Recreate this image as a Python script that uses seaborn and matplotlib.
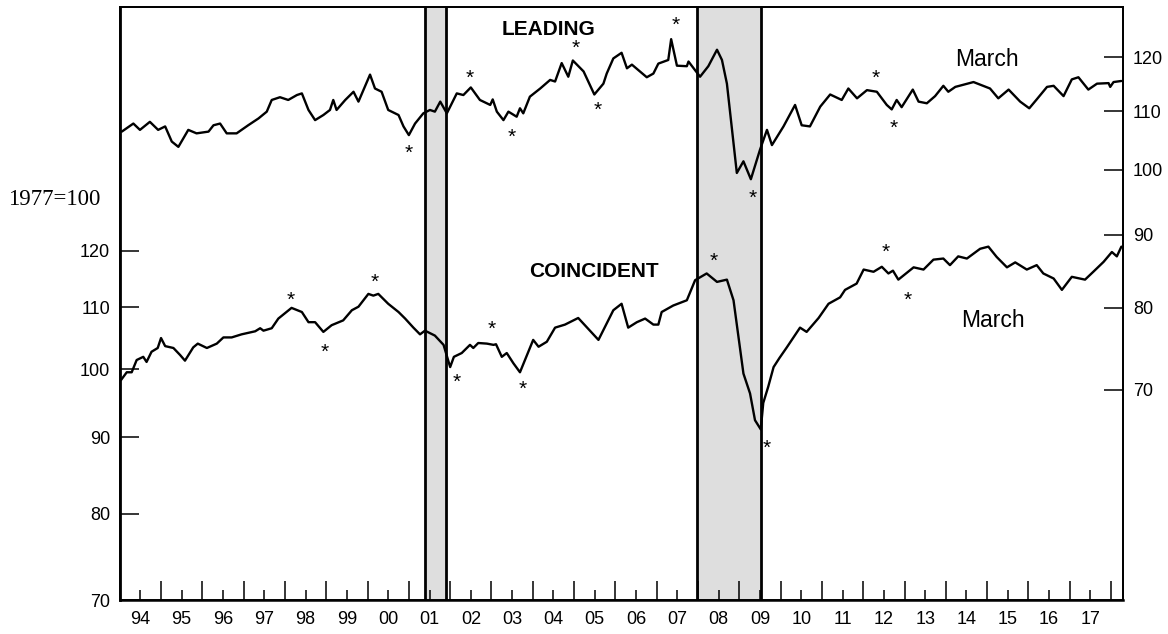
import matplotlib
matplotlib.use("Agg")
import matplotlib.pyplot as plt
from matplotlib.ticker import NullLocator
import seaborn as sns

# Leading index (right axis)
lead_year = [1994.05, 1994.33, 1994.49, 1994.73, 1994.93, 1995.10, 1995.26, 1995.42, 1995.66, 1995.86,
             1996.15, 1996.27, 1996.43, 1996.59, 1996.83, 1997.11, 1997.36, 1997.56, 1997.68, 1997.88,
             1998.08, 1998.29, 1998.41, 1998.57, 1998.73, 1998.93, 1999.09, 1999.17, 1999.25, 1999.46,
             1999.66, 1999.78, 1999.90, 2000.06, 2000.18, 2000.34, 2000.50, 2000.75, 2000.87, 2001.00,
             2001.15, 2001.35, 2001.51, 2001.63, 2001.76, 2001.92, 2002.16, 2002.32, 2002.50, 2002.72,
             2002.97, 2003.03, 2003.13, 2003.29, 2003.41, 2003.61, 2003.69, 2003.77, 2003.93, 2004.18,
             2004.42, 2004.54, 2004.70, 2004.86, 2004.97, 2005.23, 2005.49, 2005.71, 2005.79, 2005.95,
             2006.15, 2006.28, 2006.40, 2006.76, 2006.92, 2007.04, 2007.28, 2007.35, 2007.49, 2007.73,
             2007.77, 2008.05, 2008.25, 2008.46, 2008.58, 2008.70, 2008.94, 2009.10, 2009.28, 2009.50,
             2009.67, 2009.79, 2010.07, 2010.35, 2010.51, 2010.71, 2010.96, 2011.20, 2011.48, 2011.64,
             2011.85, 2012.09, 2012.33, 2012.57, 2012.69, 2012.81, 2012.93, 2013.20, 2013.34, 2013.54,
             2013.74, 2013.94, 2014.06, 2014.23, 2014.67, 2015.07, 2015.27, 2015.52, 2015.80, 2016.02,
             2016.20, 2016.45, 2016.61, 2016.85, 2017.05, 2017.21, 2017.45, 2017.66, 2017.94, 2017.98,
             2018.06, 2018.25]
lead_value = [106.4, 107.8, 106.7, 108.1, 106.7, 107.3, 104.7, 103.8, 106.7, 106.1,
              106.4, 107.5, 107.8, 106.1, 106.1, 107.5, 108.7, 109.9, 112.0, 112.5,
              112.0, 112.9, 113.2, 110.2, 108.4, 109.3, 110.2, 112.0, 110.2, 112.0,
              113.5, 111.7, 113.8, 116.7, 114.1, 113.5, 110.2, 109.3, 107.3, 105.8,
              107.8, 109.6, 110.2, 109.9, 111.7, 109.6, 113.2, 112.9, 114.3, 112.0,
              111.1, 112.1, 109.9, 108.4, 109.9, 109.0, 110.5, 109.6, 112.6, 114.1,
              115.7, 115.4, 118.9, 116.3, 119.4, 117.3, 113.0, 115.0, 116.9, 119.8,
              120.9, 117.9, 118.6, 116.2, 116.9, 118.8, 119.5, 123.6, 118.4, 118.3,
              119.2, 116.3, 118.3, 121.5, 119.5, 115.0, 99.5, 101.4, 98.5, 103.3,
              106.7, 104.1, 107.3, 111.1, 107.5, 107.3, 110.8, 113.0, 112.0, 114.1,
              112.3, 113.8, 113.5, 111.1, 110.3, 112.0, 110.7, 113.9, 111.7, 111.4,
              112.7, 114.6, 113.5, 114.4, 115.3, 114.1, 112.3, 113.9, 111.7, 110.5,
              112.1, 114.4, 114.6, 112.7, 115.8, 116.2, 113.9, 115.0, 115.1, 114.4,
              115.3, 115.5]

# Coincident index (left axis)
coin_year = [1994.03, 1994.17, 1994.29, 1994.41, 1994.57, 1994.65, 1994.77, 1994.92, 1995.00, 1995.10,
             1995.30, 1995.46, 1995.58, 1995.78, 1995.89, 1996.11, 1996.35, 1996.51, 1996.71, 1996.95,
             1997.28, 1997.40, 1997.48, 1997.68, 1997.84, 1998.16, 1998.41, 1998.57, 1998.73, 1998.93,
             1999.13, 1999.41, 1999.62, 1999.78, 2000.02, 2000.14, 2000.26, 2000.50, 2000.75, 2000.91,
             2001.11, 2001.27, 2001.39, 2001.63, 2001.84, 2002.00, 2002.09, 2002.28, 2002.48, 2002.56,
             2002.68, 2002.89, 2003.05, 2003.11, 2003.25, 2003.37, 2003.53, 2003.69, 2004.01, 2004.14,
             2004.34, 2004.54, 2004.78, 2005.10, 2005.59, 2005.95, 2006.15, 2006.31, 2006.52, 2006.72,
             2006.92, 2007.04, 2007.12, 2007.40, 2007.73, 2007.93, 2008.21, 2008.46, 2008.70, 2008.86,
             2009.10, 2009.26, 2009.38, 2009.52, 2009.58, 2009.70, 2009.83, 2009.97, 2010.15, 2010.47,
             2010.63, 2010.92, 2011.16, 2011.44, 2011.56, 2011.84, 2012.01, 2012.25, 2012.45, 2012.61,
             2012.72, 2012.85, 2013.22, 2013.46, 2013.70, 2013.94, 2014.10, 2014.30, 2014.51, 2014.83,
             2015.03, 2015.23, 2015.48, 2015.68, 2015.96, 2016.20, 2016.36, 2016.61, 2016.81, 2017.05,
             2017.37, 2017.57, 2017.82, 2018.02, 2018.14, 2018.25]
coin_value = [98.3, 99.5, 99.5, 101.4, 101.9, 101.1, 102.7, 103.3, 104.9, 103.6,
              103.3, 102.2, 101.3, 103.4, 104.0, 103.3, 104.0, 105.0, 105.0, 105.5,
              106.0, 106.5, 106.1, 106.5, 108.1, 109.9, 109.2, 107.5, 107.5, 105.9,
              107.0, 107.8, 109.5, 110.1, 112.3, 112.0, 112.3, 110.6, 109.2, 108.1,
              106.6, 105.5, 106.1, 105.3, 103.8, 100.3, 101.9, 102.5, 103.8, 103.3,
              104.1, 104.0, 103.8, 103.9, 101.9, 102.5, 100.9, 99.5, 104.6, 103.5,
              104.3, 106.6, 107.1, 108.2, 104.6, 109.5, 110.6, 106.6, 107.5, 108.1,
              107.1, 107.1, 109.2, 110.3, 111.2, 114.7, 115.9, 114.4, 114.8, 111.2,
              99.3, 96.3, 92.4, 91.1, 94.9, 97.3, 100.3, 101.7, 103.4, 106.6,
              105.9, 108.2, 110.6, 111.7, 113.0, 114.1, 116.6, 116.2, 117.1, 115.9,
              116.4, 114.8, 117.0, 116.6, 118.4, 118.6, 117.4, 119.0, 118.6, 120.4,
              120.8, 118.9, 117.0, 117.9, 116.6, 117.4, 115.9, 115.0, 113.0, 115.3,
              114.8, 116.2, 118.0, 119.8, 119.0, 120.8]

# turning point asterisks (year, index value)
lead_star_year = [2000.99, 2002.48, 2003.50, 2005.03, 2005.57, 2007.45, 2009.32, 2012.29, 2012.73]
lead_star_value = [103.0, 116.3, 105.8, 122.1, 110.5, 126.8, 95.8, 116.3, 107.3]
coin_star_year = [1998.14, 1998.97, 2000.18, 2002.17, 2003.01, 2003.75, 2008.39, 2009.67, 2012.55, 2013.08]
coin_star_value = [111.5, 103.0, 114.7, 98.3, 106.7, 97.2, 118.4, 88.8, 120.2, 111.5]

recessions = [(2001.40, 2001.90), (2007.98, 2009.53)]

left_ticks = [70, 80, 90, 100, 110, 120]
right_ticks = [70, 80, 90, 100, 110, 120]
year_labels = ["94", "95", "96", "97", "98", "99", "00", "01", "02", "03", "04", "05",
               "06", "07", "08", "09", "10", "11", "12", "13", "14", "15", "16", "17"]

sns.set_style("ticks")
plt.rcParams["font.family"] = ["Liberation Sans", "DejaVu Sans"]
plt.rcParams["text.color"] = "black"
plt.rcParams["xtick.color"] = "black"
plt.rcParams["ytick.color"] = "black"
plt.rcParams["xtick.labelcolor"] = "black"
plt.rcParams["ytick.labelcolor"] = "black"

fig = plt.figure(figsize=(11.68, 6.34), dpi=100)
ax = fig.add_axes([0.1025, 0.0536, 0.859, 0.936])
ax2 = ax.twinx()

# recession shading with black edges
for start, end in recessions:
    ax.axvspan(start, end, facecolor="#dedede", edgecolor="none", zorder=0)
    ax.axvline(start, color="black", lw=2, zorder=1)
    ax.axvline(end, color="black", lw=2, zorder=1)

sns.lineplot(x=coin_year, y=coin_value, ax=ax, color="black", lw=1.7, zorder=3)
sns.lineplot(x=lead_year, y=lead_value, ax=ax2, color="black", lw=1.7, zorder=3)

for axis in (ax, ax2):
    axis.set_yscale("log")
    axis.yaxis.set_minor_locator(NullLocator())
    axis.set_xlabel("")
    axis.set_ylabel("")

ax.set_xlim(1994.0, 2018.29)
ax.set_ylim(70, 175)
ax2.set_ylim(49.8, 130.3)

ax.set_yticks(left_ticks, [str(t) for t in left_ticks])
ax2.set_yticks(right_ticks, [str(t) for t in right_ticks])

# year boundaries get the long ticks, labels sit on the mid-year short ticks
ax.set_xticks(range(1995, 2019), [""] * 24)
ax.set_xticks([y + 0.5 for y in range(1994, 2018)], year_labels, minor=True)
ax.tick_params(axis="x", which="major", direction="in", length=14, width=1.1, pad=8)
ax.tick_params(axis="x", which="minor", direction="in", length=7, width=1.1, pad=8, labelsize=13)
ax.tick_params(axis="y", direction="in", length=13.5, width=1.1, pad=7, labelsize=13)
ax2.tick_params(axis="y", direction="in", length=13.5, width=1.1, pad=7, labelsize=13)

for axis in (ax, ax2):
    for side in ["top", "right", "bottom", "left"]:
        axis.spines[side].set_visible(True)
        axis.spines[side].set_color("black")
        axis.spines[side].set_linewidth(1.3)
ax.spines["left"].set_linewidth(2)
ax.spines["bottom"].set_linewidth(1.8)

for x, y in zip(lead_star_year, lead_star_value):
    ax2.text(x, y, "*", ha="center", va="center_baseline", fontsize=15, zorder=4)
for x, y in zip(coin_star_year, coin_star_value):
    ax.text(x, y, "*", ha="center", va="center_baseline", fontsize=15, zorder=4)

ax.text(0.4278, 0.9646, "LEADING", transform=ax.transAxes, ha="center",
        va="center_baseline", fontsize=15, fontweight="bold")
ax.text(0.4729, 0.5569, "COINCIDENT", transform=ax.transAxes, ha="center",
        va="center_baseline", fontsize=15, fontweight="bold")
ax.text(0.8644, 0.9155, "March", transform=ax.transAxes, ha="center",
        va="center_baseline", fontsize=16.5)
ax.text(0.8707, 0.4751, "March", transform=ax.transAxes, ha="center",
        va="center_baseline", fontsize=16.5)

fig.text(8 / 1168, 1 - 196.7 / 634, "1977=100", ha="left", va="center_baseline",
         fontsize=16.5, family=["Liberation Serif", "DejaVu Serif"])

fig.savefig("out.png", dpi=100)
